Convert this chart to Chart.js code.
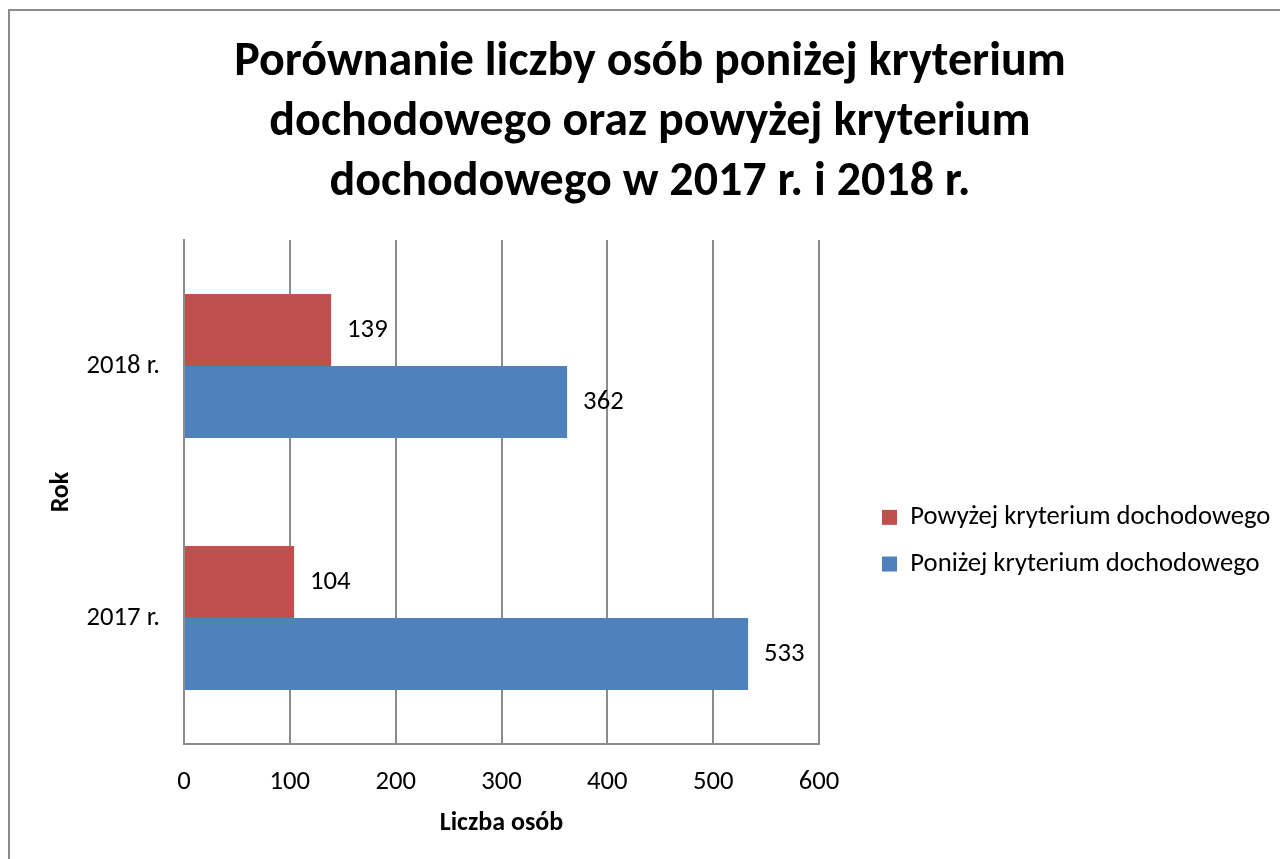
<!DOCTYPE html>
<html>
<head>
<meta charset="utf-8">
<script src="https://cdn.jsdelivr.net/npm/chart.js@4/dist/chart.umd.min.js"></script>
<style>
    body { margin: 0; background: #fff; }
    #frame { position: absolute; left: 8px; top: 9px; width: 1300px; height: 900px; border: 2px solid #8c8c8c; }
    #wrap { position: absolute; left: 0; top: 0; width: 1280px; height: 859px; }
</style>
</head>
<body>
<div id="frame"></div>
<div id="wrap"><canvas id="chart"></canvas></div>
<script>
let years = ['2018 r.', '2017 r.'];
let above = [139, 104];
let below = [362, 533];
let seriesNames = ['Powyżej kryterium dochodowego', 'Poniżej kryterium dochodowego'];
let titleLines = ['Porównanie liczby osób poniżej kryterium', 'dochodowego oraz powyżej kryterium', 'dochodowego w 2017 r. i 2018 r.'];
let xTicks = [0, 100, 200, 300, 400, 500, 600];

let fontName = 'Carlito, Lato, sans-serif';
let gridColor = '#8c8c8c';
let textSize = 26.67;

// writes the value to the right of each bar
let valueLabels = {
    id: 'valueLabels',
    afterDatasetsDraw(chart) {
        let ctx = chart.ctx;
        ctx.save();
        ctx.font = textSize + 'px ' + fontName;
        ctx.fillStyle = '#000';
        ctx.textAlign = 'left';
        ctx.textBaseline = 'middle';
        chart.data.datasets.forEach((ds, i) => {
            chart.getDatasetMeta(i).data.forEach((bar, j) => {
                ctx.fillText(ds.data[j], bar.x + 16, bar.y);
            });
        });
        ctx.restore();
    }
};

let ctx = document.getElementById('chart').getContext('2d');
let chart = new Chart(ctx, {
    type: 'bar',
    data: {
        labels: years,
        datasets: [{
            label: seriesNames[0],
            data: above,
            backgroundColor: '#c0504d',
            categoryPercentage: 0.571,
            barPercentage: 1
        }, {
            label: seriesNames[1],
            data: below,
            backgroundColor: '#4f81bd',
            categoryPercentage: 0.571,
            barPercentage: 1
        }]
    },
    options: {
        indexAxis: 'y',
        responsive: true,
        maintainAspectRatio: false,
        animation: false,
        layout: { padding: { top: 0, left: 20, right: 0, bottom: 20 } },
        scales: {
            x: {
                min: 0,
                max: 600,
                afterBuildTicks(scale) {
                    scale.ticks = xTicks.map(v => ({ value: v }));
                },
                grid: { color: gridColor, lineWidth: 2, drawTicks: false },
                border: { color: gridColor, width: 2 },
                ticks: { padding: 22, color: '#000', font: { family: fontName, size: textSize } },
                title: {
                    display: true,
                    text: 'Liczba osób',
                    color: '#000',
                    font: { family: fontName, size: 26, weight: 'bold' },
                    padding: { top: 9, bottom: 0 }
                },
                afterFit(scale) { scale.height = 95; }
            },
            y: {
                grid: { display: false, drawTicks: false },
                border: { color: gridColor, width: 2 },
                ticks: { padding: 24, color: '#000', font: { family: fontName, size: textSize } },
                title: {
                    display: true,
                    text: 'Rok',
                    color: '#000',
                    font: { family: fontName, size: 26, weight: 'bold' },
                    padding: { top: 26, bottom: 0 }
                },
                afterFit(scale) { scale.width = 164; }
            },
            gap: {
                type: 'category',
                position: 'right',
                display: true,
                grid: { display: false },
                border: { display: false },
                ticks: { display: false },
                afterFit(scale) { scale.width = 43; }
            }
        },
        plugins: {
            title: {
                display: true,
                text: titleLines,
                color: '#000',
                font: { family: fontName, size: 48, weight: 'bold', lineHeight: 1.25 },
                padding: { top: 33, bottom: 27 }
            },
            legend: {
                position: 'right',
                maxWidth: 418,
                title: { display: true, text: '', padding: { top: 228 } },
                labels: {
                    boxWidth: 15,
                    boxHeight: 15,
                    padding: 20,
                    color: '#000',
                    font: { family: fontName, size: textSize }
                }
            },
            tooltip: { enabled: false }
        }
    },
    plugins: [valueLabels]
});
</script>
</body>
</html>
